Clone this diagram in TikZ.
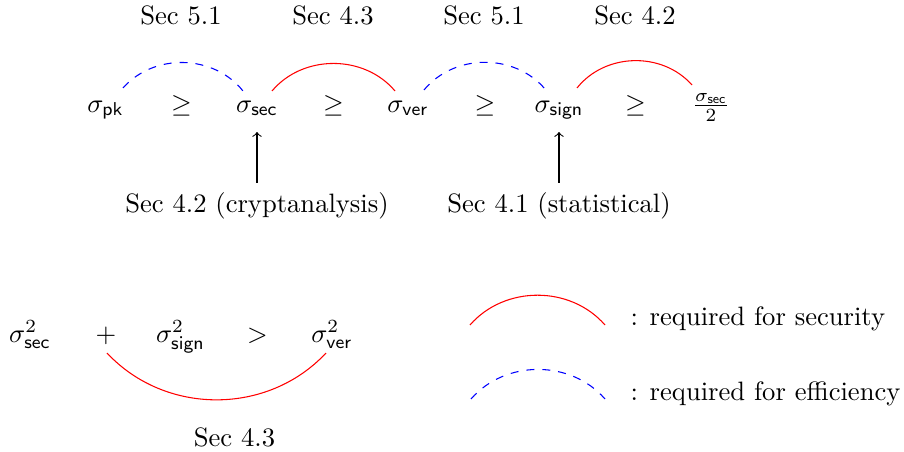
\documentclass[tikz,border=0pt]{standalone}
\usetikzlibrary{calc}
\begin{document}
\begin{tikzpicture}[x=0.376pt,y=-0.376pt,
  every node/.style={inner sep=0pt, anchor=base},
  secarc/.style={draw=red, line width=0.4pt},
  effarc/.style={draw=blue, dashed, line width=0.4pt},
  arr/.style={->, line width=0.4pt}]
\useasboundingbox (0,0) rectangle (904,452);

% top row
\node (pk)   at (105.5,112) {$\sigma_{\mathsf{pk}}$};
\node (g1)   at (181.5,112) {$\geq$};
\node (sec)  at (257,112)   {$\sigma_{\mathsf{sec}}$};
\node (g2)   at (333.5,112) {$\geq$};
\node (ver)  at (408,112)   {$\sigma_{\mathsf{ver}}$};
\node (g3)   at (485,112)   {$\geq$};
\node (sign) at (559,112)   {$\sigma_{\mathsf{sign}}$};
\node (g4)   at (635.5,112) {$\geq$};
\node (half) at (711,112)   {$\frac{\sigma_{\mathsf{sec}}}{2}$};

% section labels on top
\node (t1) at (181,24) {Sec 5.1};
\node (t2) at (333,24) {Sec 4.3};
\node (t3) at (484,24) {Sec 5.1};
\node (t4) at (635,24) {Sec 4.2};

% arcs on top
\draw[effarc] ([shift={(17.5,-24)}]pk.base) to[bend left=50] ([shift={(-14,-21)}]sec.base);
\draw[secarc] ([shift={(15,-21)}]sec.base) to[bend left=50] ([shift={(-13,-21)}]ver.base);
\draw[effarc] ([shift={(16,-22)}]ver.base) to[bend left=50] ([shift={(-14,-23)}]sign.base);
\draw[secarc] ([shift={(18,-24)}]sign.base) to[bend left=50] ([shift={(-19,-27)}]half.base);

% labels below with arrows
\node (l1) at (257,212) {Sec 4.2 (cryptanalysis)};
\node (l2) at (559,212) {Sec 4.1 (statistical)};
\draw[arr] ([shift={(0,-9)}]l1.north) -- ([shift={(0,20)}]sec.base);
\draw[arr] ([shift={(0,-9)}]l2.north) -- ([shift={(0,20)}]sign.base);

% bottom row
\node (s2sec)  at (30,342)    {$\sigma^2_{\mathsf{sec}}$};
\node (plus)   at (106,342)   {$+$};
\node (s2sign) at (180.5,342) {$\sigma^2_{\mathsf{sign}}$};
\node (gt)     at (257.5,342) {$>$};
\node (s2ver)  at (332,342)   {$\sigma^2_{\mathsf{ver}}$};
\node (b43)    at (234.5,446) {Sec 4.3};
\draw[secarc] ([shift={(1,11)}]plus.base) to[bend right=47] ([shift={(-6,11)}]s2ver.base);

% legend
\coordinate (la) at (470,325);
\coordinate (lb) at (605,325);
\coordinate (lc) at (471,399);
\coordinate (ld) at (605,399);
\draw[secarc] (la) to[bend left=49] (lb);
\draw[effarc] (lc) to[bend left=49] (ld);
\node[anchor=base west] (lt1) at (630,325) {: required for security};
\node[anchor=base west] (lt2) at (630,400) {: required for efficiency};
\end{tikzpicture}
\end{document}
